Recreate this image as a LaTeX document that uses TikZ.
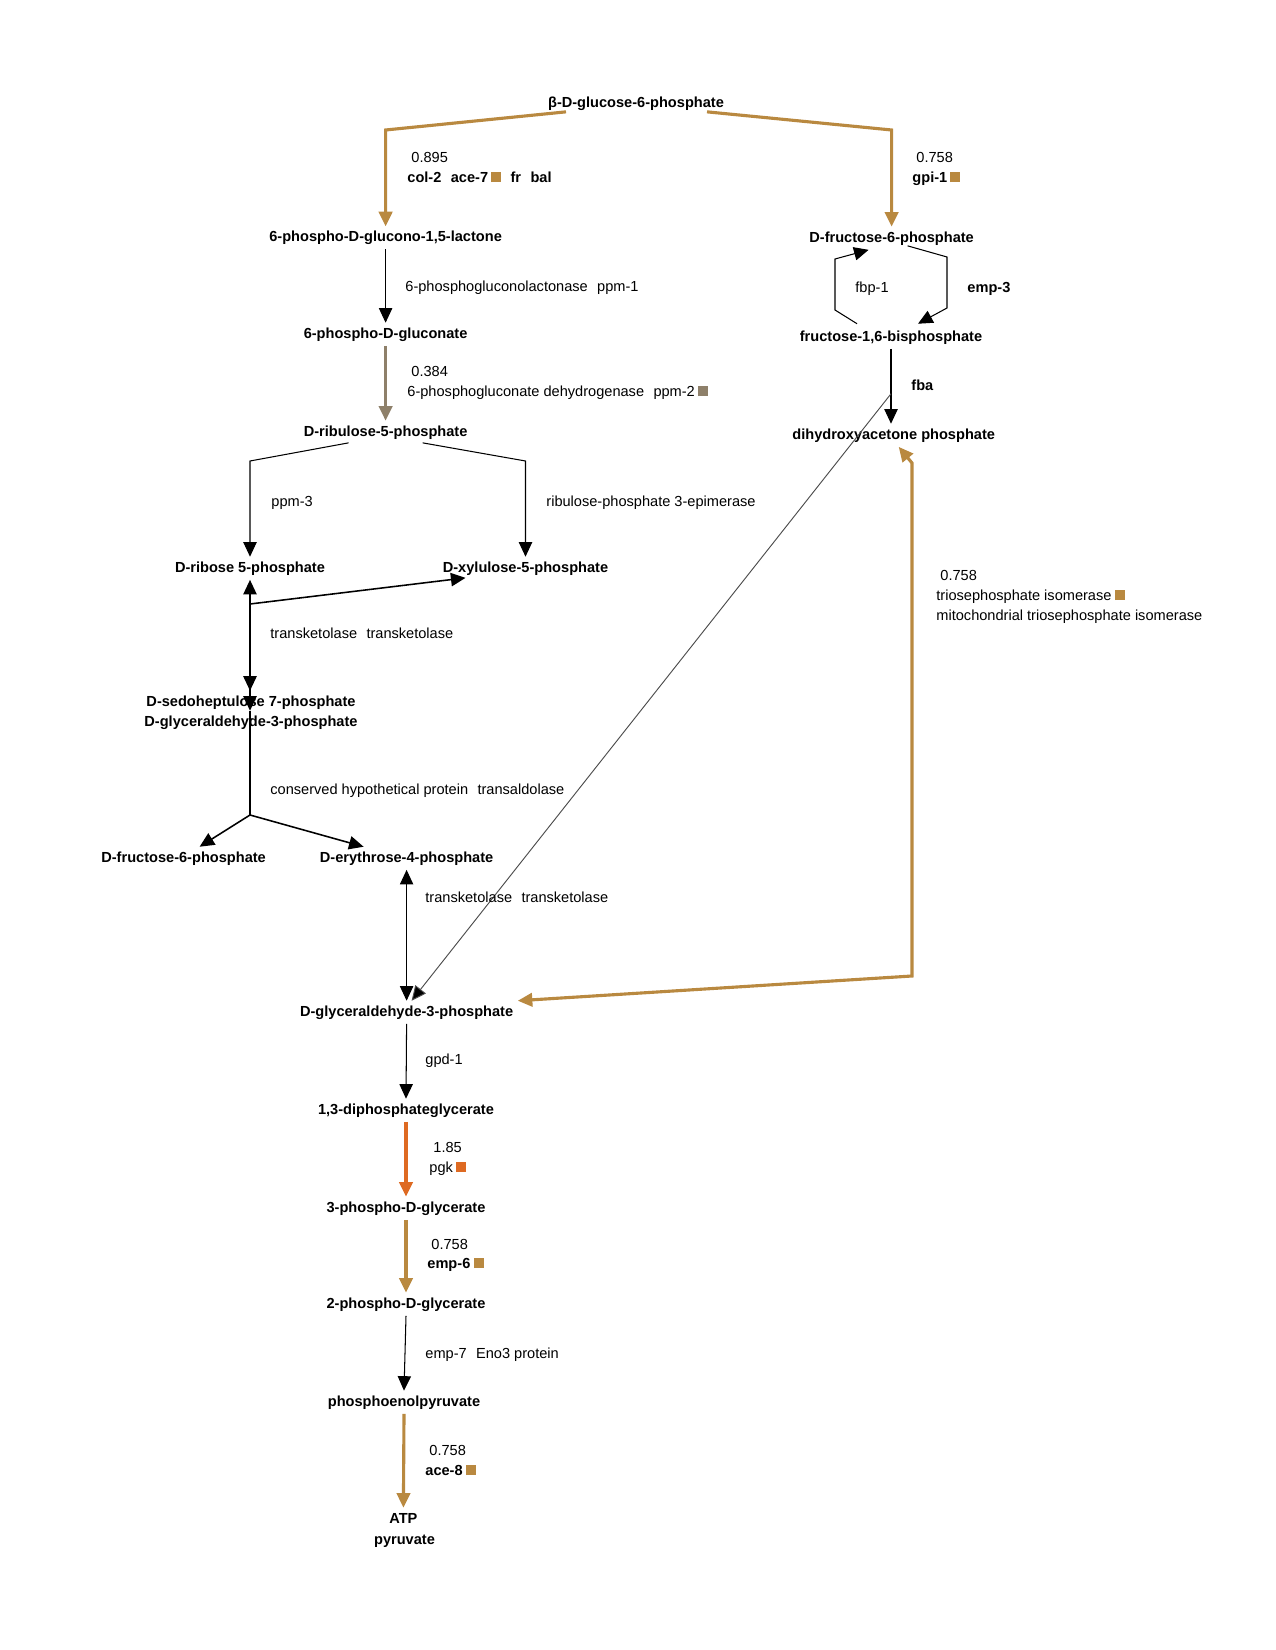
\documentclass[tikz,border=0pt]{standalone}
\usepackage{fontspec}
\setmainfont{Liberation Sans}
\usetikzlibrary{arrows.meta,calc}
\definecolor{gold}{RGB}{185,137,64}
\definecolor{pgkorange}{RGB}{222,106,34}
\definecolor{taupe}{RGB}{142,128,106}
\newcommand\msq[1]{\textcolor{#1}{\rule{4.8pt}{4.8pt}}}
\newcommand\gsp{\hspace{4.5pt}}

\begin{document}
\begin{tikzpicture}[x=0.48pt,y=-0.48pt,
  font=\fontsize{7}{9.6}\selectfont,
  met/.style={font=\fontsize{7}{9.6}\selectfont\bfseries, inner sep=2pt, text height=5.2pt, text depth=1.5pt, yshift=-1.1pt},
  lab/.style={anchor=west, inner sep=0pt, text height=5.2pt, text depth=1.5pt, yshift=-1.1pt},
  arrowhd/.style={-{Triangle[length=7pt,width=6.4pt]}},
  bothhd/.style={{Triangle[length=7pt,width=6.4pt]}-{Triangle[length=7pt,width=6.4pt]}},
  flux/.style={line width=1.5pt, draw=#1, arrowhd},
  rxn/.style={line width=0.5pt, black, arrowhd},
  rxnmid/.style={line width=0.75pt, black, arrowhd},
  diagline/.style={line width=0.45pt, black!70, -{Triangle[length=7pt,width=6.4pt,fill=black]}}
]
\path[use as bounding box] (0,0) rectangle (1275,1650);

% metabolites
\node[met] (glc6p) at (636,101) {β-D-glucose-6-phosphate};
\node[met] (lactone) at (385.6,235.6) {6-phospho-D-glucono-1,5-lactone};
\node[met] (pgluc) at (385.6,332) {6-phospho-D-gluconate};
\node[met] (ru5p) at (385.6,430) {D-ribulose-5-phosphate};
\node[met] (r5p) at (250,566) {D-ribose 5-phosphate};
\node[met] (xu5p) at (525.5,566) {D-xylulose-5-phosphate};
\node[met] (s7p) at (251,700) {D-sedoheptulose 7-phosphate};
\node[met] (gapb) at (251,720) {D-glyceraldehyde-3-phosphate};
\node[met] (f6pb) at (183.6,856) {D-fructose-6-phosphate};
\node[met] (e4p) at (406.6,856) {D-erythrose-4-phosphate};
\node[met] (gap) at (406.6,1010) {D-glyceraldehyde-3-phosphate};
\node[met] (bpg) at (406,1108) {1,3-diphosphateglycerate};
\node[met] (pg3) at (406,1206) {3-phospho-D-glycerate};
\node[met] (pg2) at (406,1302) {2-phospho-D-glycerate};
\node[met] (pep) at (404,1400) {phosphoenolpyruvate};
\node[met] (atp) at (403.4,1517) {ATP};
\node[met] (pyr) at (404.5,1538) {pyruvate};
\node[met] (f6p) at (891.6,236) {D-fructose-6-phosphate};
\node[met] (fbp) at (891,335) {fructose-1,6-bisphosphate};
\node[met] (dhap) at (893.7,433) {dihydroxyacetone phosphate};

% oxidative branch and glycolysis entry
\draw[flux=gold] ($(glc6p.south)+(-70,-3)$) -- (385.6,130) -- (lactone.north);
\draw[flux=gold] ($(glc6p.south)+(71,-3)$) -- (891.6,130) -- (f6p.north);
\draw[rxn] (lactone.south) -- (pgluc.north);
\draw[flux=taupe] (pgluc.south) -- (ru5p.north);
\draw[rxn] ($(ru5p.south)+(-37,-1)$) -- (250,461) -- (r5p.north);
\draw[rxn] ($(ru5p.south)+(37,-1)$) -- (525.5,461) -- (xu5p.north);

% transketolase
\coordinate (tk) at (250,604);
\draw[rxnmid] (tk) -- (r5p.south);
\draw[rxnmid] (tk) -- ($(xu5p.south)+(-60,-2)$);
\draw[rxnmid] (tk) -- (tk |- s7p.north);
\draw[rxnmid] (tk) -- (tk |- gapb.north);

% transaldolase
\coordinate (ta) at (250,815);
\draw[line width=0.75pt] (tk |- gapb.north) -- (ta);
\draw[rxnmid] (ta) -- ($(f6pb.north)+(16,0)$);
\draw[rxnmid] (ta) -- ($(e4p.north)+(-43,0)$);
\draw[rxn, bothhd] (e4p.south) -- (gap.north);

% fructose cycle and aldolase
\draw[rxn] ($(fbp.north)+(-34,-2)$) -- (835,310) -- (835,259) -- ($(f6p.south)+(-23,0)$);
\draw[rxn] ($(f6p.south)+(16,-4)$) -- (947,257) -- (947,308) -- ($(fbp.north)+(27,-2)$);
\draw[rxn] (fbp.south) -- (fbp.south |- dhap.north);
\draw[diagline] ($(fbp.south)!0.6!(fbp.south |- dhap.north)$) -- ($(gap.north)+(5,0)$);

% triosephosphate isomerase
\draw[flux=gold, bothhd] (gap.north east) -- (912,976) -- (912,463) -- ($(dhap.south)+(5,0)$);

% lower glycolysis
\draw[rxn] (gap.south) -- (bpg.north);
\draw[flux=pgkorange] (bpg.south) -- (pg3.north);
\draw[flux=gold] (pg3.south) -- (pg2.north);
\draw[rxn] (pg2.south) -- (pep.north);
\draw[flux=gold] (pep.south) -- (atp.north);

% enzyme labels
\node[lab] (l1a) at (411,156) {0.895};
\node[lab] (l1b) at (407,176) {\textbf{col-2}\gsp\textbf{ace-7}\hspace{1.5pt}\msq{gold}\gsp\textbf{fr}\gsp\textbf{bal}};
\node[lab] (l2a) at (916,156) {0.758};
\node[lab] (l2b) at (912,176) {\textbf{gpi-1}\hspace{1.5pt}\msq{gold}};
\node[lab] (l3) at (405,285) {6-phosphogluconolactonase\gsp ppm-1};
\node[lab] (l4) at (855,286) {fbp-1};
\node[lab] (l5) at (967,286) {\textbf{emp-3}};
\node[lab] (l6a) at (411,370) {0.384};
\node[lab] (l6b) at (407,390) {6-phosphogluconate dehydrogenase\gsp ppm-2\hspace{1.5pt}\msq{taupe}};
\node[lab] (l7) at (911,384) {\textbf{fba}};
\node[lab] (l8) at (271,500) {ppm-3};
\node[lab] (l9) at (546,500) {ribulose-phosphate 3-epimerase};
\node[lab] (l10a) at (940,574) {0.758};
\node[lab] (l10b) at (936,594) {triosephosphate isomerase\hspace{1.5pt}\msq{gold}};
\node[lab] (l10c) at (936,614) {mitochondrial triosephosphate isomerase};
\node[lab] (l11) at (270,632) {transketolase\gsp transketolase};
\node[lab] (l12) at (270,788) {conserved hypothetical protein\gsp transaldolase};
\node[lab] (l13) at (425,896) {transketolase\gsp transketolase};
\node[lab] (l14) at (425,1058) {gpd-1};
\node[lab] (l15a) at (433,1146) {1.85};
\node[lab] (l15b) at (429,1166) {pgk\hspace{1.5pt}\msq{pgkorange}};
\node[lab] (l16a) at (431,1243) {0.758};
\node[lab] (l16b) at (427,1262) {\textbf{emp-6}\hspace{1.5pt}\msq{gold}};
\node[lab] (l17) at (425,1352) {emp-7\gsp Eno3 protein};
\node[lab] (l18a) at (429,1449) {0.758};
\node[lab] (l18b) at (425,1469) {\textbf{ace-8}\hspace{1.5pt}\msq{gold}};
\end{tikzpicture}
\end{document}
